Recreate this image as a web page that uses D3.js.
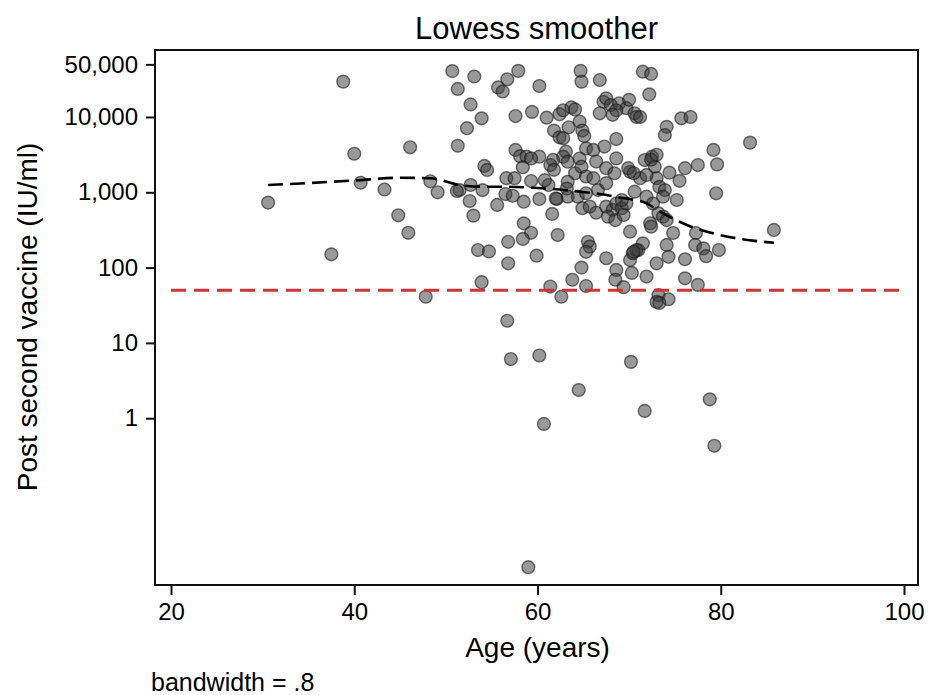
<!DOCTYPE html>
<html>
<head>
<meta charset="utf-8">
<script src="https://cdn.jsdelivr.net/npm/d3@7"></script>
<style>
  body { margin: 0; background: #fff; }
  text { font-family: "Liberation Sans", Arial, Helvetica, sans-serif; fill: #000; }
</style>
</head>
<body>
<div id="chart"></div>
<script>
// Datos (edad en años, título post segunda dosis en IU/ml)
const age = [
  30.6, 37.5, 38.8, 40.0, 40.7, 43.3, 44.8, 45.9, 46.1, 47.8, 48.3, 49.1, 50.7, 51.3, 51.3, 51.5, 52.7, 53.1, 53.9, 52.3,
  54.2, 54.5, 52.7, 54.0, 52.6, 53.0, 53.5, 54.7, 53.9, 55.7, 56.2, 56.7, 57.9, 60.2, 57.6, 59.4, 61.0, 57.6, 58.1, 58.8,
  58.4, 56.6, 57.5, 56.5, 57.3, 59.3, 60.2, 58.5, 55.6, 58.5, 59.3, 58.4, 56.8, 59.9, 56.8, 62.2, 61.6, 61.2, 62.1, 62.4,
  62.8, 63.7, 64.1, 61.8, 62.4, 62.8, 63.4, 64.6, 64.9, 65.1, 64.7, 64.8, 66.8, 63.1, 62.8, 63.3, 64.6, 65.3, 66.1, 64.1,
  64.8, 65.3, 66.1, 63.3, 63.2, 63.3, 64.4, 65.3, 64.9, 65.7, 66.4, 66.6, 67.5, 67.2, 67.5, 68.0, 68.9, 69.7, 68.6, 68.2,
  70.6, 70.8, 68.6, 70.0, 66.8, 67.3, 68.6, 70.1, 71.2, 71.7, 72.5, 72.8, 73.0, 71.9, 67.5, 68.2, 68.6, 69.2, 67.7, 68.5,
  69.4, 70.1, 65.5, 65.7, 65.3, 64.8, 67.5, 68.6, 68.5, 70.1, 70.4, 71.0, 71.9, 69.4, 63.8, 65.3, 61.4, 62.6, 71.5, 72.4,
  72.2, 71.2, 74.1, 73.9, 75.7, 76.7, 79.2, 83.2, 72.4, 73.0, 74.4, 76.1, 77.5, 79.6, 75.5, 73.3, 73.9, 73.7, 75.2, 79.5,
  71.9, 72.6, 70.6, 69.7, 69.2, 73.2, 73.7, 74.1, 72.3, 72.4, 74.8, 77.3, 85.8, 71.5, 70.8, 70.5, 74.1, 74.3, 77.2, 78.1,
  78.4, 79.8, 70.3, 73.0, 76.1, 76.1, 77.5, 73.2, 73.0, 74.3, 73.3, 56.7, 57.1, 60.2, 64.5, 70.2, 71.7, 78.8, 79.3, 60.7,
  59.0, 62.0, 60.2, 61.7, 59.3, 61.4, 61.8, 60.8, 66.4, 67.5, 68.4, 69.9, 70.5, 51.2
]
const titer = [
  730, 150, 29500, 3250, 1340, 1090, 495, 290, 3960, 41, 1400, 1000, 40700, 23600, 4150, 1070, 14700, 34500, 9600, 7100,
  2240, 1980, 1250, 1070, 765, 490, 171, 164, 64, 24700, 21800, 31700, 41000, 25800, 10300, 11700, 9800, 3650, 3020, 2970,
  2150, 1540, 1540, 950, 900, 1410, 815, 750, 680, 387, 290, 240, 220, 144, 114, 271, 516, 1250, 815, 10900,
  12300, 13400, 12600, 6600, 5370, 5240, 7300, 8700, 6600, 5600, 41000, 29500, 31000, 3460, 2970, 2550, 2810, 3820, 3650, 1790,
  2190, 1620, 1540, 1380, 1120, 875, 875, 970, 615, 645, 535, 1070, 1320, 15900, 17700, 14400, 15200, 13100, 12300, 10700,
  11200, 10000, 5100, 16900, 11200, 4050, 2820, 1870, 1540, 2680, 2970, 2190, 1540, 1700, 645, 585, 710, 615, 475, 428,
  500, 300, 220, 190, 162, 100, 133, 93, 69, 126, 155, 171, 76, 55, 69, 57, 56, 41, 40000, 37300,
  20000, 10000, 7400, 5770, 9600, 10000, 3650, 4570, 2710, 3150, 1820, 2090, 2300, 2350, 1420, 1180, 1070, 875, 790, 970,
  875, 710, 1020, 710, 790, 525, 475, 428, 388, 350, 288, 288, 316, 210, 171, 162, 200, 139, 200, 180,
  142, 171, 85, 114, 129, 72, 59, 43, 35, 38, 34, 19.7, 6.1, 6.8, 2.37, 5.6, 1.25, 1.78, 0.43, 0.84,
  0.0105, 830, 2970, 2690, 2820, 2300, 1990, 1450, 2560, 2090, 1790, 2090, 1790, 1040
]

// Curva lowess
const lowessAge = [30.6, 34.1, 40.0, 45.0, 48.3, 51.5, 54.0, 56.6, 59.5, 62.1, 64.6, 66.8, 69.0, 71.9, 73.7, 76.3, 79.9, 83.5, 85.8]
const lowessTiter = [1250, 1310, 1435, 1560, 1535, 1250, 1187, 1187, 1150, 1096, 1019, 949, 853, 714, 526, 368, 271, 228, 214]

const xTicks = [20, 40, 60, 80, 100]
const yTicks = [1, 10, 100, 1000, 10000, 50000]
const cutoff = 50
const cutoffAges = [20, 100]

const width = 928
const height = 695
const plot = { left: 155, right: 918, top: 50, bottom: 585 }

const svg = d3.select("div#chart")
  .append("svg")
  .attr("width", width)
  .attr("height", height)

// Escalas
const x = d3.scaleLinear().domain([20, 100]).range([171, 904])
const y = d3.scaleLog().domain([1, 10000]).range([418.2, 117])

// Marco del área de trazado
svg.append("rect")
  .attr("x", plot.left)
  .attr("y", plot.top)
  .attr("width", plot.right - plot.left)
  .attr("height", plot.bottom - plot.top)
  .attr("fill", "none")
  .attr("stroke", "#111")
  .attr("stroke-width", 2)

// Ejes
const yAxisGroup = svg.append("g")
  .attr("transform", `translate(${plot.left}, 0)`)
  .call(d3.axisLeft(y).tickValues(yTicks).tickFormat(d3.format(",")).tickSize(9).tickPadding(8))
yAxisGroup.select(".domain").remove()
yAxisGroup.selectAll("line").attr("stroke", "#111").attr("stroke-width", 2)
yAxisGroup.selectAll("text").attr("font-size", 24).attr("font-family", null)

const xAxisGroup = svg.append("g")
  .attr("transform", `translate(0, ${plot.bottom})`)
  .call(d3.axisBottom(x).tickValues(xTicks).tickSize(10).tickPadding(8))
xAxisGroup.select(".domain").remove()
xAxisGroup.selectAll("line").attr("stroke", "#111").attr("stroke-width", 2)
xAxisGroup.selectAll("text").attr("font-size", 24).attr("font-family", null)

// Puntos
const points = age.map((a, i) => ({ age: a, titer: titer[i] }))
svg.append("g")
  .selectAll("circle").data(points)
  .join("circle")
  .attr("cx", d => x(d.age))
  .attr("cy", d => y(d.titer))
  .attr("r", 6.4)
  .attr("fill", "rgba(60,60,60,0.52)")
  .attr("stroke", "rgba(25,25,25,0.6)")
  .attr("stroke-width", 1.4)

// Línea de corte (50 IU/ml)
svg.append("line")
  .attr("x1", x(cutoffAges[0]))
  .attr("x2", x(cutoffAges[1]))
  .attr("y1", y(cutoff))
  .attr("y2", y(cutoff))
  .attr("stroke", "#cc3535")
  .attr("stroke-width", 2.8)
  .attr("stroke-dasharray", "15,8")

// Suavizado lowess
const lowess = lowessAge.map((a, i) => ({ age: a, titer: lowessTiter[i] }))
svg.append("path")
  .datum(lowess)
  .attr("fill", "none")
  .attr("stroke", "#000")
  .attr("stroke-width", 2.6)
  .attr("stroke-dasharray", "15,7")
  .attr("d", d3.line().x(d => x(d.age)).y(d => y(d.titer)).curve(d3.curveMonotoneX))

// Textos
svg.append("text")
  .attr("x", (plot.left + plot.right) / 2)
  .attr("y", 39)
  .attr("text-anchor", "middle")
  .attr("font-size", 31)
  .text("Lowess smoother")

svg.append("text")
  .attr("x", x(60))
  .attr("y", 657)
  .attr("text-anchor", "middle")
  .attr("font-size", 28)
  .text("Age (years)")

svg.append("text")
  .attr("transform", `translate(37, 317) rotate(-90)`)
  .attr("text-anchor", "middle")
  .attr("font-size", 28)
  .text("Post second vaccine (IU/ml)")

svg.append("text")
  .attr("x", 151)
  .attr("y", 691)
  .attr("font-size", 25)
  .text("bandwidth = .8")
</script>
</body>
</html>
